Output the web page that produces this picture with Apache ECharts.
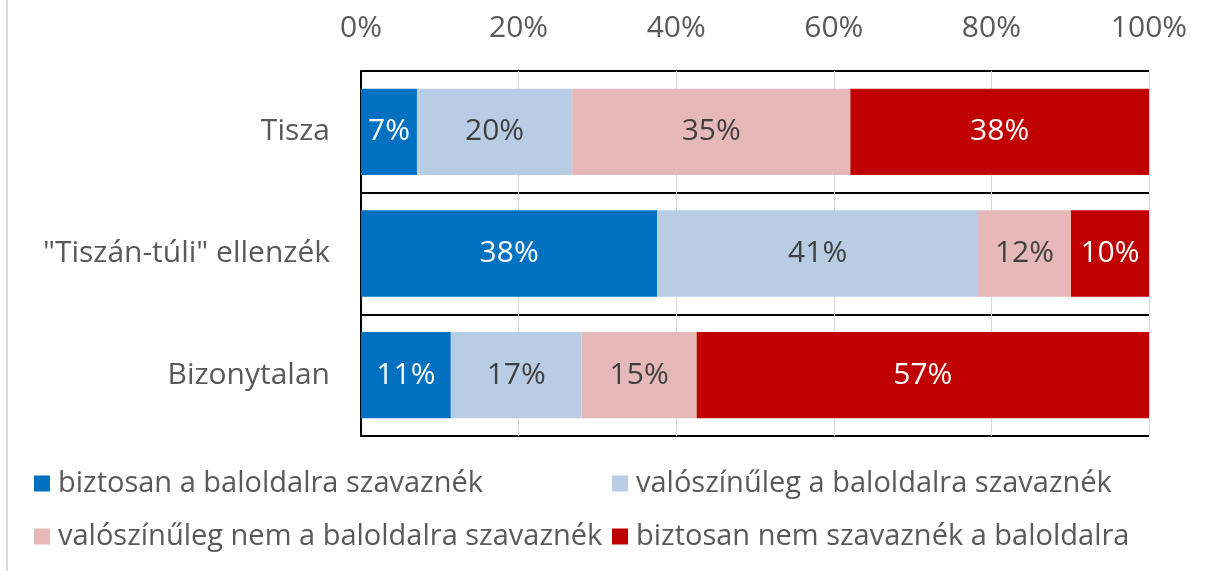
<!DOCTYPE html>
<html><head><meta charset="utf-8">
<script src="https://cdn.jsdelivr.net/npm/echarts@6/dist/echarts.min.js"></script>
<style>html,body{margin:0;padding:0;background:#fff}#c{width:1208px;height:571px}</style>
</head><body><div id="c"></div>
<script>
var categories = ['Tisza', '"Tiszán-túli" ellenzék', 'Bizonytalan'];
var seriesNames = ['biztosan a baloldalra szavaznék', 'valószínűleg a baloldalra szavaznék', 'valószínűleg nem a baloldalra szavaznék', 'biztosan nem szavaznék a baloldalra'];
var biztosanBal = [7.1, 37.6, 11.4];
var valBal = [19.7, 40.7, 16.6];
var valNemBal = [35.3, 11.8, 14.6];
var biztosanNem = [37.9, 9.9, 57.4];
var xTicks = [0, 20, 40, 60, 80, 100];

var colors = ['#0070C0', '#B8CCE4', '#E6B8B7', '#C00000'];
var labelColors = ['#ffffff', '#404040', '#404040', '#ffffff'];
var FONT = 'Open Sans';
var values = [biztosanBal, valBal, valNemBal, biztosanNem];

var chart = echarts.init(document.getElementById('c'));
var legendPos = [[29, 464], [607, 464], [29, 517], [607, 517]];
chart.setOption({
  animation: false,
  textStyle: {fontFamily: FONT},
  grid: {left: 361, right: 59, top: 71, bottom: 135},
  xAxis: {
    type: 'value', position: 'top', min: 0, max: 100, interval: 20,
    axisLine: {show: false}, axisTick: {show: false},
    axisLabel: {formatter: function(v){ return xTicks.indexOf(v) >= 0 ? v + '%' : ''; }, color: '#595959', fontSize: 30, margin: 28, fontFamily: FONT},
    splitLine: {show: true, lineStyle: {color: '#d9d9d9', width: 1}}
  },
  yAxis: {
    type: 'category', data: categories, inverse: true,
    axisLine: {show: true, lineStyle: {color: '#000', width: 2}},
    axisTick: {show: false},
    axisLabel: {color: '#595959', fontSize: 30, margin: 31, fontFamily: FONT},
    splitLine: {show: true, lineStyle: {color: '#000', width: 2}}
  },
  legend: legendPos.map(function(p, i){
    return {data: [seriesNames[i]], left: p[0], top: p[1], itemWidth: 16, itemHeight: 16, icon: 'rect',
      textStyle: {color: '#595959', fontSize: 29, fontFamily: FONT, padding: [0, 0, 0, 3]}, itemGap: 0};
  }),
  series: seriesNames.map(function(n, i){
    return {
      name: n, type: 'bar', stack: 'total', data: values[i], barCategoryGap: '29%',
      itemStyle: {color: colors[i]},
      label: {show: true, position: 'inside', color: labelColors[i], fontSize: 30, fontFamily: FONT,
        formatter: function(p){ return Math.round(p.value) + '%'; }}
    };
  }),
  graphic: [{type: 'line', shape: {x1: 7, y1: 0, x2: 7, y2: 571}, style: {stroke: '#d9d9d9', lineWidth: 2}}]
});
</script></body></html>
